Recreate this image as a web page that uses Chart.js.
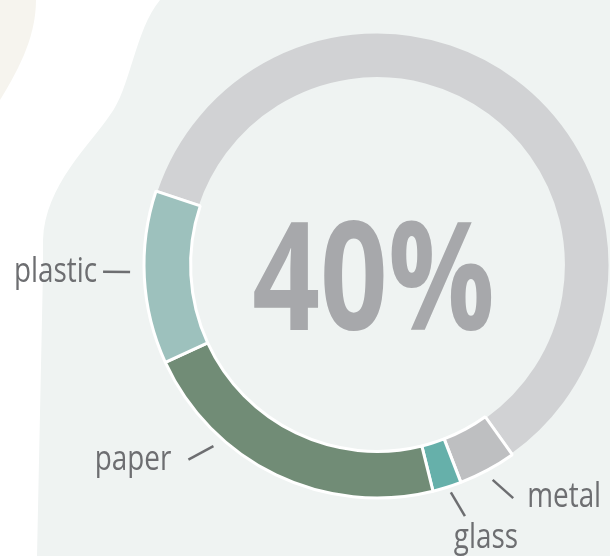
<!DOCTYPE html>
<html>
<head>
<meta charset="utf-8">
<script src="https://cdn.jsdelivr.net/npm/chart.js@4.4.1/dist/chart.umd.min.js"></script>
<style>
  html, body { margin: 0; padding: 0; background: #ffffff; }
  #wrap { width: 610px; height: 556px; position: relative; }
</style>
</head>
<body>
<div id="wrap"><canvas id="wasteChart"></canvas></div>
<script>
// data, clockwise from the top-left
const categories = ['other', 'metal', 'glass', 'paper', 'plastic'];
const shares = [60, 4, 2, 22, 12];
const colors = ['#d1d2d4', '#bebfc1', '#66b0aa', '#718c76', '#9dc1bd'];
const labelled = ['metal', 'glass', 'paper', 'plastic'];

// where each label sits, relative to its slice (degrees, px past the outer edge)
const labelLayout = {
  plastic: { a1: 1.5, r1: 14, a2: 1.7, r2: 41, dx: -6, dy: 10, align: 'right' },
  paper:   { a1: 16.4, r1: 11, a2: 18.4, r2: 38, dx: -17, dy: 10, align: 'right' },
  metal:   { a1: 0, r1: 11, a2: -2, r2: 37, dx: 14, dy: 9, align: 'left' },
  glass:   { a1: -0.5, r1: 6, a2: -1.8, r2: 33, dx: 21, dy: 32, align: 'center' }
};

const recycled = shares.filter((v, i) => categories[i] !== 'other').reduce((a, b) => a + b, 0);

const backdrop = {
  id: 'backdrop',
  beforeDraw(chart) {
    const ctx = chart.ctx;
    ctx.save();
    ctx.fillStyle = '#f6f4ee';
    ctx.beginPath();
    ctx.moveTo(0, 0);
    ctx.lineTo(36, 0);
    ctx.bezierCurveTo(36, 40, 15, 75, 0, 100);
    ctx.closePath();
    ctx.fill();

    ctx.fillStyle = '#eff3f2';
    ctx.beginPath();
    ctx.moveTo(160, 0);
    ctx.bezierCurveTo(135, 30, 130, 90, 110, 115);
    ctx.bezierCurveTo(90, 145, 45, 185, 43, 240);
    ctx.lineTo(43, 270);
    ctx.lineTo(37, 556);
    ctx.lineTo(610, 556);
    ctx.lineTo(610, 0);
    ctx.closePath();
    ctx.fill();
    ctx.restore();
  }
};

const centerText = {
  id: 'centerText',
  afterDraw(chart) {
    const arc = chart.getDatasetMeta(0).data[0];
    const ctx = chart.ctx;
    ctx.save();
    ctx.fillStyle = '#a7a8ab';
    ctx.font = 'bold 150px "Open Sans"';
    ctx.textAlign = 'center';
    ctx.textBaseline = 'alphabetic';
    ctx.translate(arc.x - 3.5, arc.y + 65);
    ctx.scale(0.79, 1);
    ctx.fillText(recycled + '%', 0, 0);
    ctx.restore();
  }
};

const sliceLabels = {
  id: 'sliceLabels',
  afterDraw(chart) {
    const meta = chart.getDatasetMeta(0);
    const ctx = chart.ctx;
    ctx.save();
    ctx.strokeStyle = '#6d6e71';
    ctx.fillStyle = '#6d6e71';
    ctx.lineWidth = 2.5;
    ctx.font = '34px "Open Sans"';
    ctx.textBaseline = 'alphabetic';
    labelled.forEach(name => {
      const i = categories.indexOf(name);
      const arc = meta.data[i];
      const L = labelLayout[name];
      const mid = (arc.startAngle + arc.endAngle) / 2;
      const R = arc.outerRadius;
      const a1 = mid + L.a1 * Math.PI / 180;
      const a2 = mid + L.a2 * Math.PI / 180;
      const x1 = arc.x + Math.cos(a1) * (R + L.r1);
      const y1 = arc.y + Math.sin(a1) * (R + L.r1);
      const x2 = arc.x + Math.cos(a2) * (R + L.r2);
      const y2 = arc.y + Math.sin(a2) * (R + L.r2);
      ctx.beginPath();
      ctx.moveTo(x1, y1);
      ctx.lineTo(x2, y2);
      ctx.stroke();

      ctx.save();
      ctx.translate(x2 + L.dx, y2 + L.dy);
      ctx.scale(0.82, 1);
      ctx.textAlign = L.align;
      ctx.fillText(name, 0, 0);
      ctx.restore();
    });
    ctx.restore();
  }
};

const ctx = document.getElementById('wasteChart').getContext('2d');
const wasteChart = new Chart(ctx, {
  type: 'doughnut',
  data: {
    labels: categories,
    datasets: [{
      data: shares,
      backgroundColor: colors,
      borderColor: ['#eff3f2', '#ffffff', '#ffffff', '#ffffff', '#ffffff'],
      borderWidth: 3,
      hoverOffset: 0
    }]
  },
  options: {
    responsive: true,
    maintainAspectRatio: false,
    animation: false,
    rotation: -71.5,
    cutout: '80%',
    radius: 233,
    layout: { padding: { left: 144, right: 0, top: 0, bottom: 26 } },
    plugins: {
      legend: { display: false },
      tooltip: { enabled: false }
    }
  },
  plugins: [backdrop, centerText, sliceLabels]
});
</script>
</body>
</html>
